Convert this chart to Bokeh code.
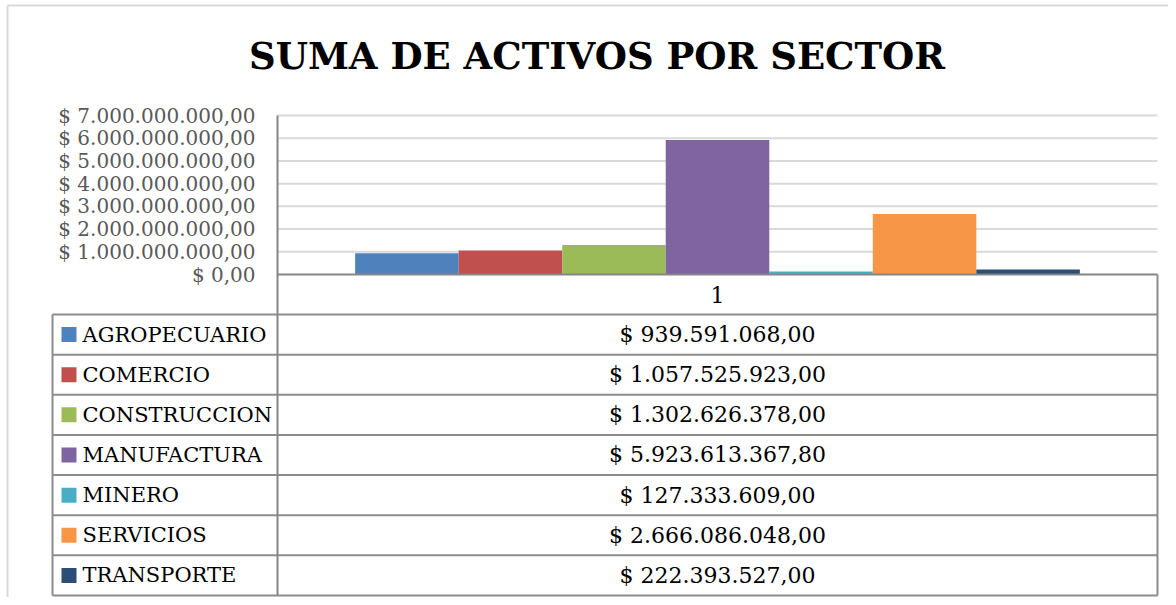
from bokeh.plotting import figure
from bokeh.models import (Range1d, FixedTicker, CustomJSTickFormatter,
                          LinearAxis)
from bokeh.core.properties import value
from bokeh.embed import file_html
from bokeh.resources import INLINE

# ---------------- data ----------------
title_text = "SUMA DE ACTIVOS POR SECTOR"
category = ["1"]
sectors = ["AGROPECUARIO", "COMERCIO", "CONSTRUCCION", "MANUFACTURA",
           "MINERO", "SERVICIOS", "TRANSPORTE"]
activos = [939591068.00, 1057525923.00, 1302626378.00, 5923613367.80,
           127333609.00, 2666086048.00, 222393527.00]
colors = ["#4F81BD", "#C0504D", "#9BBB59", "#8064A2",
          "#4BACC6", "#F79646", "#2C4D75"]
y_ticks = [0, 1e9, 2e9, 3e9, 4e9, 5e9, 6e9, 7e9]
y_tick_labels = ["$ 0,00", "$ 1.000.000.000,00", "$ 2.000.000.000,00",
                 "$ 3.000.000.000,00", "$ 4.000.000.000,00", "$ 5.000.000.000,00",
                 "$ 6.000.000.000,00", "$ 7.000.000.000,00"]


def fmt_money(v):
    s = f"{v:,.2f}".replace(",", "X").replace(".", ",").replace("X", ".")
    return "$ " + s


value_labels = [fmt_money(v) for v in activos]

FONT = "DejaVu Serif"
GRID = "#d9d9d9"
AXIS = "#868686"
TABLE_LINE = "#8c8c8c"
FRAME = "#d9d9d9"

# ---------------- layout (pixel canvas) ----------------
W, H = 1168, 597
plot_l, plot_r = 277, 1157          # plot area horizontal extent
plot_top, plot_zero = 115, 274      # y of max tick / y of zero
y_max = y_ticks[-1]
px_per_val = (plot_zero - plot_top) / y_max
tab_l = 52
tab_top, row_h = 314, 40.14
n = len(sectors)
tab_bot = tab_top + n * row_h

p = figure(width=W, height=H,
           x_range=Range1d(0, W), y_range=Range1d(H, 0),
           x_axis_location=None, y_axis_location=None,
           output_backend="svg", toolbar_location=None,
           min_border=0, min_border_left=0, min_border_right=0,
           min_border_top=0, min_border_bottom=0)
p.outline_line_color = None
p.background_fill_color = "white"
p.border_fill_color = "white"
p.grid.visible = False

# category scale: band [-0.5, 0.5] over plot area
bx_per_px = 1.0 / (plot_r - plot_l)
p.extra_x_ranges = {"cat": Range1d(-0.5 - plot_l * bx_per_px,
                                   -0.5 + (W - plot_l) * bx_per_px)}
# value scale
p.extra_y_ranges = {"val": Range1d(-(H - plot_zero) / px_per_val,
                                   plot_zero / px_per_val)}

# outer chart border
p.segment(x0=[7, 7], y0=[5, 5], x1=[7, W], y1=[H, 5], line_color=FRAME,
          line_width=2)

# title
p.text(x=[(7 + 1186) / 2.0], y=[55], text=[title_text], text_font=value(FONT),
       text_font_size="37px", text_font_style="bold", text_align="center",
       text_baseline="middle", text_color="#000000")

# gridlines
grid_vals = y_ticks[1:]
p.segment(x0=[-0.5] * len(grid_vals), y0=grid_vals,
          x1=[0.5] * len(grid_vals), y1=grid_vals,
          x_range_name="cat", y_range_name="val",
          line_color=GRID, line_width=2)

# bars
bw = 1.0 / (n + 1.5)
xs = [(i - (n - 1) / 2.0) * bw for i in range(n)]
p.vbar(x=xs, top=activos, bottom=0, width=bw, fill_color=colors,
       line_color=None, x_range_name="cat", y_range_name="val")

# baseline
p.segment(x0=[-0.5], y0=[0], x1=[0.5], y1=[0], x_range_name="cat",
          y_range_name="val", line_color=AXIS, line_width=2)

# y axis (drawn at the plot-area left edge, runs down through the table)
yaxis = LinearAxis(y_range_name="val", fixed_location=plot_l,
                   ticker=FixedTicker(ticks=y_ticks),
                   bounds=(-(tab_bot - plot_zero) / px_per_val, y_max))
yaxis.formatter = CustomJSTickFormatter(
    args=dict(tick_vals=y_ticks, tick_labels=y_tick_labels),
    code="const i = tick_vals.indexOf(tick); return i >= 0 ? tick_labels[i] : '';")
yaxis.major_tick_line_color = None
yaxis.minor_tick_line_color = None
yaxis.major_tick_out = 0
yaxis.major_tick_in = 0
yaxis.major_label_standoff = 22
yaxis.axis_line_color = AXIS
yaxis.axis_line_width = 2
yaxis.major_label_text_font = FONT
yaxis.major_label_text_font_size = "20px"
yaxis.major_label_text_color = "#595959"
p.add_layout(yaxis, "left")

# category label (header row of the data table)
p.text(x=[0], y=[(plot_zero + tab_top) / 2.0], text=category,
       x_range_name="cat", text_font=value(FONT), text_font_size="22px",
       text_align="center", text_baseline="middle", text_color="#000000")

# data table lines
hy = [tab_top + i * row_h for i in range(n + 1)]
p.segment(x0=[tab_l] * len(hy), y0=hy, x1=[plot_r] * len(hy), y1=hy,
          line_color=TABLE_LINE, line_width=2)
p.segment(x0=[tab_l, plot_r], y0=[tab_top, plot_zero],
          x1=[tab_l, plot_r], y1=[tab_bot, tab_bot],
          line_color=TABLE_LINE, line_width=2)

row_c = [tab_top + (i + 0.5) * row_h for i in range(n)]
p.rect(x=[tab_l + 16.5] * n, y=row_c, width=15, height=15,
       fill_color=colors, line_color=None)
p.text(x=[tab_l + 30] * n, y=row_c, text=sectors, text_font=value(FONT),
       text_font_size="21px", text_align="left", text_baseline="middle",
       text_color="#000000")
p.text(x=[0] * n, y=row_c, text=value_labels, x_range_name="cat",
       text_font=value(FONT), text_font_size="22px", text_align="center",
       text_baseline="middle", text_color="#000000")

open("out.html", "w").write(file_html(p, INLINE))
